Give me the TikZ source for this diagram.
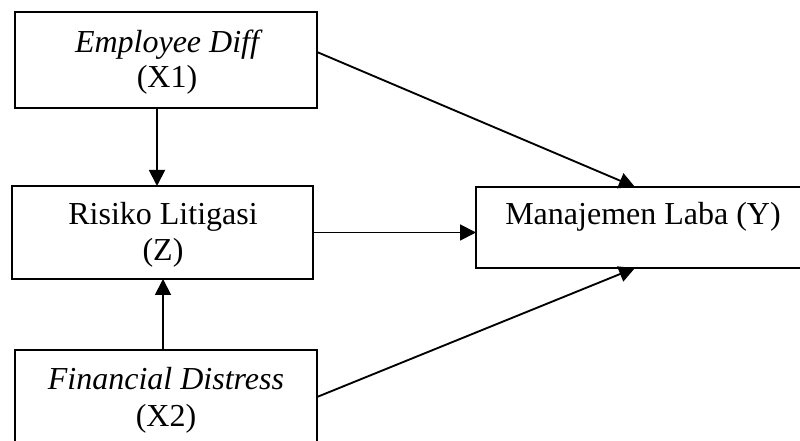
\documentclass[tikz,border=0pt]{standalone}
\usepackage{fontspec}
\setmainfont{Liberation Serif}
\usetikzlibrary{arrows.meta,calc}
\tikzset{
  box/.style={draw, line width=1.4pt, inner sep=0pt, outer sep=0pt},
  lbl/.style={anchor=base, inner sep=0pt, font=\fontsize{24}{28}\selectfont},
  conn/.style={line width=1.4pt, -{Triangle[length=12pt,width=12pt]}}
}
\begin{document}
\begin{tikzpicture}[x=0.75pt, y=-0.75pt]
\useasboundingbox (0,0) rectangle (800,441);
\clip (0,0) rectangle (800,441);
\fill[white] (0,0) rectangle (800,441);
% boxes
\node[box, minimum width=226.5pt, minimum height=72pt] (b1) at (166,60) {};
\node[box, minimum width=225.75pt, minimum height=69.75pt] (b2) at (162.5,232.5) {};
\node[box, minimum width=226.5pt, minimum height=72pt] (b3) at (166,398) {};
\node[box, minimum width=244.5pt, minimum height=60.75pt] (b4) at (639,227.5) {};
% labels
\node[lbl] (t1a) at (167,53) {\itshape Employee Diff};
\node[lbl] (t1b) at (167,88) {(X1)};
\node[lbl] (t2a) at (163,225) {Risiko Litigasi};
\node[lbl] (t2b) at (163,261) {(Z)};
\node[lbl] (t3a) at (166,390) {\itshape Financial Distress};
\node[lbl] (t3b) at (166,427) {(X2)};
\node[lbl] (t4) at (643,225) {Manajemen Laba (Y)};
% connectors
\coordinate (s1) at ($(b1.south)+(-9,0)$);
\draw[conn] (s1) -- (s1 |- b2.north);
\coordinate (s3) at ($(b3.north)+(-3,0)$);
\draw[conn] (s3) -- (s3 |- b2.south);
\draw[conn] (b2.east) -- (b2.east -| b4.west);
\coordinate (d1) at ($(b1.north east)+(0,40)$);
\coordinate (e1) at ($(b4.north west)+(159,0)$);
\draw[conn] (d1) -- (e1);
\coordinate (d3) at ($(b3.north east)+(0,47)$);
\coordinate (e3) at ($(b4.south west)+(159,0)$);
\draw[conn] (d3) -- (e3);
\end{tikzpicture}
\end{document}
